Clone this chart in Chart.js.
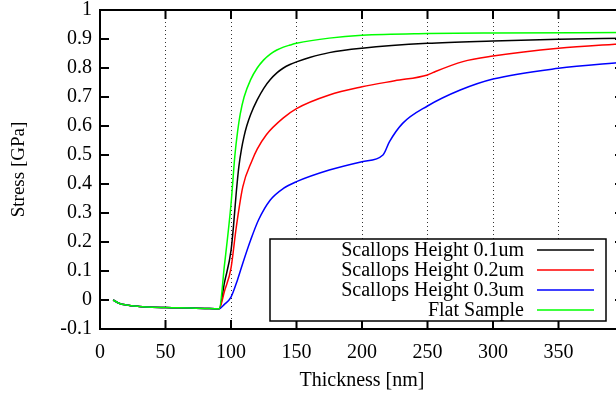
<!DOCTYPE html>
<html>
<head>
<meta charset="utf-8">
<script src="https://cdn.jsdelivr.net/npm/chart.js@4"></script>
<style>
  html, body { margin: 0; padding: 0; background: #fff; overflow: hidden; }
  #wrap { width: 616px; height: 396px; overflow: hidden; }
</style>
</head>
<body>
<div id="wrap"><canvas id="chart" width="626" height="396"></canvas></div>
<script>
// shared flat part before the rise
const baseX = [10, 15, 20, 30, 40, 50, 60, 70, 80, 91]
const baseY = [0, -0.012, -0.017, -0.022, -0.025, -0.026, -0.027, -0.028, -0.029, -0.03]

const h01X = [95, 100, 102, 104, 106, 108, 110, 112, 115, 120, 125, 130, 135, 140, 145, 150, 160, 175, 200, 250, 300, 350, 400]
const h01Y = [0.06, 0.17, 0.26, 0.37, 0.46, 0.52, 0.565, 0.6, 0.64, 0.69, 0.73, 0.76, 0.783, 0.8, 0.812, 0.821, 0.836, 0.853, 0.868, 0.885, 0.893, 0.899, 0.903]

const h02X = [95, 100, 104, 109, 116, 120, 127, 140, 150, 175, 200, 225, 250, 254, 277, 300, 350, 400]
const h02Y = [0.03, 0.11, 0.25, 0.39, 0.48, 0.52, 0.57, 0.628, 0.66, 0.707, 0.735, 0.756, 0.776, 0.784, 0.822, 0.841, 0.868, 0.884]

const h03X = [95, 100, 105, 109, 115, 121, 130, 140, 150, 175, 200, 216, 221, 231, 250, 275, 300, 350, 400]
const h03Y = [-0.015, 0.01, 0.07, 0.127, 0.207, 0.276, 0.345, 0.385, 0.408, 0.448, 0.477, 0.5, 0.546, 0.609, 0.669, 0.724, 0.762, 0.799, 0.82]

const flatX = [95, 100, 103, 105, 107, 110, 115, 120, 125, 130, 135, 140, 145, 150, 175, 200, 250, 300, 400]
const flatY = [0.12, 0.33, 0.5, 0.58, 0.64, 0.7, 0.76, 0.8, 0.828, 0.848, 0.862, 0.872, 0.879, 0.885, 0.903, 0.913, 0.919, 0.921, 0.922]

const labels = ['Scallops Height 0.1um', 'Scallops Height 0.2um', 'Scallops Height 0.3um', 'Flat Sample']
const colors = ['#000000', '#ff0000', '#0000ff', '#00ff00']

const FONT = '"Liberation Serif", "Times New Roman", serif'

function points(xs, ys) {
    const all_x = baseX.concat(xs)
    const all_y = baseY.concat(ys)
    return all_x.map((x, i) => ({x: x, y: all_y[i]}))
}

const series = [[h01X, h01Y], [h02X, h02Y], [h03X, h03Y], [flatX, flatY]]

const datasets = series.map((s, i) => ({
    label: labels[i],
    data: points(s[0], s[1]),
    borderColor: colors[i],
    borderWidth: 1.5,
    pointRadius: 0,
    fill: false,
    cubicInterpolationMode: 'monotone',
    order: 4 - i
}))

// gnuplot style inward tick marks
const innerTicks = {
    id: 'innerTicks',
    afterDatasetsDraw(chart) {
        const ctx = chart.ctx
        const a = chart.chartArea
        const xs = chart.scales.x
        const ys = chart.scales.y
        ctx.save()
        ctx.strokeStyle = '#000'
        ctx.lineWidth = 2
        ctx.beginPath()
        xs.ticks.forEach(t => {
            const px = xs.getPixelForValue(t.value)
            ctx.moveTo(px, a.bottom); ctx.lineTo(px, a.bottom - 9)
            ctx.moveTo(px, a.top); ctx.lineTo(px, a.top + 9)
        })
        ys.ticks.forEach(t => {
            const py = ys.getPixelForValue(t.value)
            ctx.moveTo(a.left, py); ctx.lineTo(a.left + 9, py)
            ctx.moveTo(a.right, py); ctx.lineTo(a.right - 9, py)
        })
        ctx.stroke()
        ctx.strokeRect(a.left, a.top, a.right - a.left, a.bottom - a.top)
        ctx.restore()
    }
}

// legend box in the lower right, text left of the sample line
const boxLegend = {
    id: 'boxLegend',
    afterDraw(chart) {
        const ctx = chart.ctx
        const a = chart.chartArea
        const right = a.right - 18
        const left = right - 336
        const bottom = a.bottom - 8
        const top = bottom - 82
        ctx.save()
        ctx.fillStyle = '#fff'
        ctx.fillRect(left, top, right - left, bottom - top)
        ctx.strokeStyle = '#000'
        ctx.lineWidth = 1.5
        ctx.strokeRect(left, top, right - left, bottom - top)
        ctx.font = '20px ' + FONT
        ctx.textAlign = 'right'
        ctx.textBaseline = 'middle'
        chart.data.datasets.forEach((ds, i) => {
            const y = top + 11 + i * 20
            ctx.fillStyle = '#000'
            ctx.fillText(ds.label, right - 82, y + 1)
            ctx.strokeStyle = ds.borderColor
            ctx.lineWidth = 1.5
            ctx.beginPath()
            ctx.moveTo(right - 69, y)
            ctx.lineTo(right - 12, y)
            ctx.stroke()
        })
        ctx.restore()
    }
}

new Chart(document.getElementById('chart'), {
    type: 'line',
    data: { datasets: datasets },
    options: {
        responsive: false,
        animation: false,
        layout: { padding: { top: 10, right: 2, left: 0, bottom: 0 } },
        plugins: {
            legend: { display: false },
            tooltip: { enabled: false }
        },
        scales: {
            x: {
                type: 'linear',
                min: 0,
                max: 400,
                afterFit: s => {
                    s.height = 67
                    s.paddingLeft = 0
                    s.paddingRight = 0
                },
                ticks: {
                    stepSize: 50,
                    color: '#000',
                    padding: 12,
                    maxRotation: 0,
                    font: { family: FONT, size: 20 },
                    callback: v => v >= 400 ? '' : String(v)
                },
                grid: {
                    drawTicks: false,
                    lineWidth: 1,
                    color: c => (c.tick && (c.tick.value === 0 || c.tick.value === 400)) ? 'rgba(0,0,0,0)' : '#333'
                },
                border: { display: false, dash: [1, 3] },
                title: {
                    display: true,
                    text: 'Thickness [nm]',
                    color: '#000',
                    font: { family: FONT, size: 20 },
                    padding: { top: 0, bottom: 3 }
                }
            },
            y: {
                min: -0.1,
                max: 1,
                afterFit: s => {
                    s.width = 100
                    s.paddingTop = 0
                    s.paddingBottom = 0
                },
                ticks: {
                    stepSize: 0.1,
                    color: '#000',
                    padding: 8,
                    font: { family: FONT, size: 20 },
                    callback: v => String(Math.round(v * 10) / 10)
                },
                grid: { display: false, drawTicks: false },
                border: { display: false },
                title: {
                    display: true,
                    text: 'Stress [GPa]',
                    color: '#000',
                    font: { family: FONT, size: 19 },
                    padding: { top: 8, bottom: 0 }
                }
            }
        }
    },
    plugins: [innerTicks, boxLegend]
})
</script>
</body>
</html>
